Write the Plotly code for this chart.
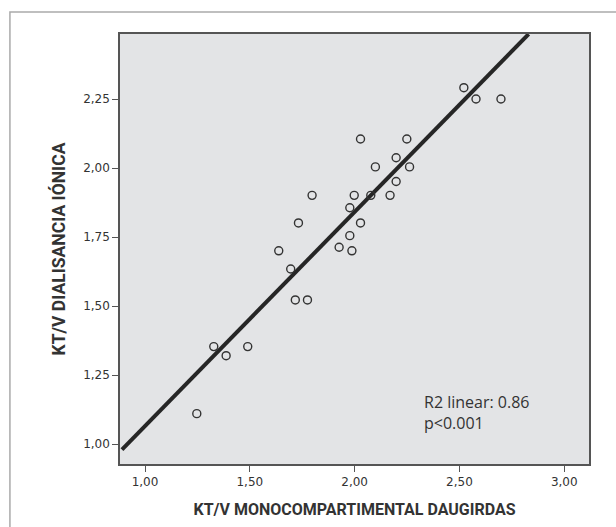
import plotly.graph_objects as go

# Data
kt_v_daugirdas = [2.521, 2.579, 2.698, 2.028, 2.249, 2.198, 2.099, 2.262, 2.198,
                  1.797, 1.998, 2.077, 2.169, 1.977, 1.732, 2.028, 1.977, 1.638,
                  1.926, 1.987, 1.695, 1.717, 1.775, 1.328, 1.387, 1.490, 1.247]
kt_v_dialisancia = [2.291, 2.250, 2.250, 2.105, 2.105, 2.037, 2.004, 2.004, 1.951,
                    1.901, 1.901, 1.901, 1.901, 1.856, 1.801, 1.801, 1.755, 1.700,
                    1.713, 1.700, 1.634, 1.522, 1.522, 1.353, 1.320, 1.353, 1.110]

fit_intercept = 0.289
fit_slope = 0.776
fit_x = [0.89, 2.83]
fit_y = [fit_intercept + fit_slope * v for v in fit_x]

x_tick_vals = [1.0, 1.5, 2.0, 2.5, 3.0]
x_tick_text = ["1,00", "1,50", "2,00", "2,50", "3,00"]
y_tick_vals = [1.0, 1.25, 1.5, 1.75, 2.0, 2.25]
y_tick_text = ["1,00", "1,25", "1,50", "1,75", "2,00", "2,25"]

x_title = "KT/V MONOCOMPARTIMENTAL DAUGIRDAS"
y_title = "KT/V DIALISANCIA IÓNICA"
annotation_text = "R2 linear: 0.86<br>p<0.001"

fig = go.Figure()
fig.add_trace(go.Scatter(
    x=fit_x, y=fit_y, mode="lines",
    line=dict(color="#262626", width=4), hoverinfo="skip", showlegend=False,
))
fig.add_trace(go.Scatter(
    x=kt_v_daugirdas, y=kt_v_dialisancia, mode="markers",
    marker=dict(symbol="circle-open", size=8, color="#333333",
                line=dict(width=1.4, color="#333333")),
    showlegend=False,
))

x_title_font = dict(family="Roboto, sans-serif", size=16, color="#333333")
y_title_font = dict(family="Roboto, sans-serif", size=17.5, color="#333333")
tick_font = dict(family="DejaVu Sans", size=12, color="#333333")

fig.update_layout(
    width=616, height=527,
    margin=dict(l=120, r=27.3, t=34, b=62.7, autoexpand=False),
    paper_bgcolor="white",
    plot_bgcolor="#e3e4e6",
    xaxis=dict(
        range=[0.8807, 3.118], tickvals=x_tick_vals, ticktext=x_tick_text,
        ticks="outside", ticklen=6, tickwidth=1, tickcolor="#555555",
        showgrid=False, zeroline=False,
        showline=True, linecolor="#555555", linewidth=1.5, mirror=True,
        tickfont=tick_font,
        title=dict(text="<b>" + x_title + "</b>", font=x_title_font, standoff=16),
    ),
    yaxis=dict(
        range=[0.9276, 2.4855], tickvals=y_tick_vals, ticktext=y_tick_text,
        ticks="outside", ticklen=6, tickwidth=1, tickcolor="#555555",
        showgrid=False, zeroline=False,
        showline=True, linecolor="#555555", linewidth=1.5, mirror=True,
        tickfont=tick_font,
        title=dict(text="<b>" + y_title + "</b>", font=y_title_font, standoff=13),
    ),
    shapes=[dict(
        type="rect", xref="paper", yref="paper",
        x0=-0.2347, y0=-1.0, x1=2.0, y1=1.0511,
        line=dict(color="#aaaaaa", width=1.5), fillcolor="rgba(0,0,0,0)",
        layer="below",
    )],
    annotations=[dict(
        text=annotation_text, xref="paper", yref="paper",
        x=0.6458, y=0.1727, xanchor="left", yanchor="top", align="left",
        showarrow=False, borderpad=0,
        font=dict(family="Open Sans", size=16, color="#333333"),
    )],
)

fig.write_html(
    "out.html",
    config={"displayModeBar": False},
    post_script="document.body.style.margin='0';document.body.style.overflow='hidden';",
)
